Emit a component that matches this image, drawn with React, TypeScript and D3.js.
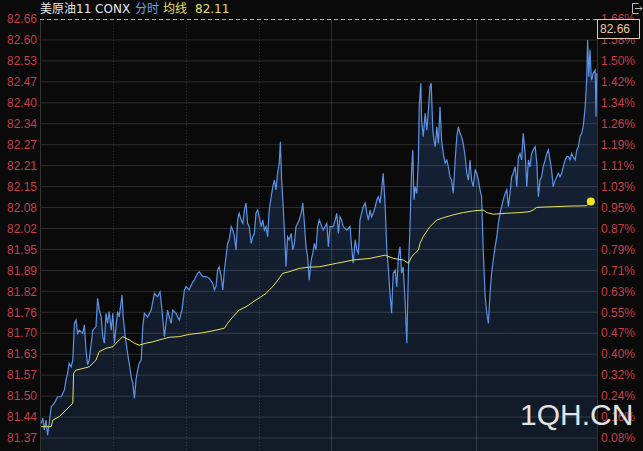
import React from 'react';
import * as d3 from 'd3';

const W = 643;
const H = 451;

const titleText = '美原油11 CONX';
const modeText = '分时';
const avgText = '均线';
const avgValueText = '82.11';
const lastTagText = '82.66';
const watermarkText = '1QH.CN';

const priceTickLabels = ['82.66','82.60','82.53','82.47','82.40','82.34','82.27','82.21','82.15','82.08','82.02','81.95','81.89','81.82','81.76','81.70','81.63','81.57','81.50','81.44','81.37'];
const pctTickLabels = ['1.66%','1.58%','1.50%','1.42%','1.34%','1.26%','1.19%','1.11%','1.03%','0.95%','0.87%','0.79%','0.71%','0.63%','0.55%','0.47%','0.40%','0.32%','0.24%','0.16%','0.08%'];
const priceTop = 82.66;
const priceBottom = 81.37;

const sessionMinutes = 1392.5;
const gridMinutes = [182, 365, 548, 728, 1090];
const gridDotted = [true, true, true, false, false];

const priceTimes = [3,7,11,15,19,23,28,36,44,53,61,65,69,73,78,82,86,90,94,98,107,111,115,119,123,132,140,144,148,153,157,161,165,169,173,178,182,186,190,194,198,205,208,213,219,223,228,232,236,240,244,248,253,257,261,269,278,286,294,300,305,311,315,319,323,328,332,340,348,355,361,365,373,382,386,390,394,398,407,415,423,432,436,440,444,448,453,457,461,465,469,473,478,482,486,490,494,498,503,507,511,515,519,523,528,532,536,540,544,548,553,557,561,565,569,573,578,582,586,590,594,598,601,604,608,611,615,619,623,628,632,636,640,644,648,653,657,661,665,669,673,678,682,686,690,694,698,708,717,721,725,733,738,742,746,750,754,758,767,775,779,783,788,792,796,800,804,808,813,817,821,825,829,833,838,842,846,850,854,858,863,867,871,875,879,883,888,892,896,900,904,908,913,917,921,925,929,932,935,938,942,946,948,952,954,958,963,967,971,975,978,982,985,988,992,996,1000,1004,1008,1013,1017,1021,1025,1029,1033,1038,1042,1046,1050,1054,1058,1063,1067,1071,1075,1079,1083,1088,1092,1096,1100,1104,1108,1113,1117,1121,1125,1129,1133,1138,1142,1146,1150,1154,1158,1163,1167,1171,1175,1179,1183,1188,1192,1196,1200,1204,1208,1213,1217,1221,1225,1229,1233,1238,1242,1246,1250,1254,1258,1263,1267,1271,1275,1279,1283,1288,1292,1296,1300,1304,1308,1313,1317,1321,1325,1329,1333,1338,1342,1346,1350,1354,1358,1363,1367,1369,1372,1375,1378,1379,1383,1388,1390,1392];

const prices = [81.415,81.431,81.395,81.425,81.379,81.415,81.466,81.477,81.497,81.497,81.518,81.549,81.569,81.600,81.589,81.610,81.723,81.733,81.692,81.702,81.692,81.718,81.641,81.595,81.610,81.702,81.713,81.800,81.764,81.743,81.682,81.662,81.754,81.723,81.759,81.702,81.754,81.662,81.713,81.759,81.743,81.810,81.743,81.682,81.631,81.600,81.559,81.538,81.492,81.549,81.579,81.600,81.610,81.713,81.754,81.743,81.764,81.815,81.805,81.820,81.764,81.682,81.723,81.764,81.743,81.723,81.764,81.754,81.733,81.764,81.826,81.836,81.826,81.851,81.856,81.867,81.877,81.882,81.867,81.867,81.862,81.846,81.826,81.836,81.887,81.897,81.867,81.826,81.887,81.928,81.969,81.980,82.021,82.010,81.990,81.949,82.041,82.062,82.041,82.031,82.072,82.093,82.031,82.021,81.969,81.990,82.000,82.062,82.072,82.051,82.021,82.041,82.010,82.021,81.990,82.072,82.113,82.144,82.164,82.134,82.185,82.216,82.282,82.164,82.082,82.010,81.897,81.990,81.980,82.000,81.949,81.969,82.021,82.031,82.041,82.062,82.093,82.031,81.959,81.928,81.856,81.918,81.939,81.969,81.949,82.021,82.041,82.010,82.031,81.959,82.021,82.021,82.041,82.062,82.000,82.051,82.041,82.021,82.010,82.021,81.959,81.908,81.980,81.949,81.939,82.041,82.062,82.082,82.093,82.062,82.041,82.072,82.051,82.062,82.082,82.103,82.113,82.093,82.134,82.185,82.082,81.949,81.887,81.815,81.754,81.877,81.887,81.836,81.928,81.959,81.877,81.897,81.785,81.662,81.887,82.021,82.195,82.257,82.103,82.144,82.123,82.226,82.390,82.462,82.349,82.298,82.370,82.318,82.380,82.452,82.462,82.318,82.287,82.267,82.328,82.277,82.390,82.287,82.246,82.216,82.226,82.205,82.174,82.164,82.123,82.226,82.298,82.328,82.308,82.298,82.277,82.236,82.185,82.164,82.226,82.164,82.144,82.195,82.185,82.164,82.134,82.113,81.949,81.805,81.754,81.723,81.815,81.877,81.918,81.959,81.990,82.031,82.062,82.082,82.103,82.123,82.134,82.082,82.123,82.174,82.185,82.205,82.144,82.236,82.246,82.226,82.308,82.246,82.144,82.226,82.205,82.246,82.257,82.267,82.216,82.113,82.164,82.174,82.205,82.226,82.246,82.257,82.226,82.195,82.144,82.164,82.174,82.185,82.174,82.185,82.205,82.226,82.236,82.236,82.226,82.246,82.236,82.226,82.257,82.267,82.298,82.308,82.328,82.390,82.482,82.595,82.482,82.565,82.482,82.472,82.493,82.503,82.359,82.493];

const avgTimes = [3,28,32,48,65,73,82,84,90,107,123,140,148,165,182,198,207,215,223,236,248,265,282,298,323,348,373,407,440,461,469,482,498,515,540,565,573,582,598,607,623,648,673,698,742,783,825,863,883,908,921,929,938,946,950,958,975,992,1008,1033,1058,1083,1108,1117,1133,1167,1200,1225,1233,1242,1283,1325,1367,1377];
const avgPrices = [81.405,81.405,81.425,81.436,81.456,81.466,81.477,81.569,81.579,81.584,81.589,81.610,81.636,81.646,81.651,81.672,81.682,81.677,81.672,81.662,81.656,81.662,81.666,81.672,81.680,81.682,81.689,81.694,81.702,81.708,81.723,81.743,81.764,81.774,81.795,81.815,81.826,81.836,81.862,81.877,81.882,81.892,81.896,81.897,81.908,81.918,81.923,81.933,81.923,81.918,81.908,81.928,81.939,81.949,81.969,81.990,82.021,82.041,82.048,82.057,82.064,82.069,82.072,82.064,82.059,82.062,82.064,82.067,82.072,82.080,82.082,82.084,82.085,82.098];

const LEFT = 40;
const RIGHT = 597;
const TOP = 19;
const BOTTOM = 438;

const labelRed = '#c63f4a';
const sans = '"Liberation Sans", Arial, sans-serif';

export default function App() {
  const x = d3.scaleLinear().domain([0, sessionMinutes]).range([LEFT, RIGHT]);
  const y = d3.scaleLinear().domain([priceBottom, priceTop]).range([BOTTOM, TOP]);
  const tickY = d3.scaleLinear().domain([0, priceTickLabels.length - 1]).range([TOP, BOTTOM]);

  const pts = priceTimes.map((t, i) => [t, prices[i]] as [number, number]);
  const avgPts = avgTimes.map((t, i) => [t, avgPrices[i]] as [number, number]);

  const line = d3.line<[number, number]>().x(d => x(d[0])).y(d => y(d[1]));
  const area = d3.area<[number, number]>().x(d => x(d[0])).y0(H).y1(d => y(d[1]));

  const lastAvg = avgPts[avgPts.length - 1];

  return (
    <svg width={W} height={H} style={{ position: 'fixed', left: 0, top: 0, background: '#0a0a0a' }}>
      <defs>
        <linearGradient id="fillG" x1="0" y1="0" x2="0" y2="1">
          <stop offset="0%" stopColor="#16233a" />
          <stop offset="100%" stopColor="#111a26" />
        </linearGradient>
      </defs>
      <rect x={0} y={0} width={W} height={H} fill="#0a0a0a" />
      <path d={area(pts) || ''} fill="url(#fillG)" />
      {priceTickLabels.map((_, i) => i === 0 ? null : (
        <line key={'h' + i} x1={LEFT} x2={RIGHT} y1={tickY(i)} y2={tickY(i)} stroke="rgba(255,255,255,0.14)" strokeWidth={1} />
      ))}
      {gridMinutes.map((t, i) => (
        <line key={'v' + i} x1={Math.round(x(t)) + 0.5} x2={Math.round(x(t)) + 0.5} y1={TOP} y2={H}
          stroke="rgba(255,255,255,0.14)" strokeWidth={1} strokeDasharray={gridDotted[i] ? '1,2' : undefined} />
      ))}
      <line x1={LEFT + 0.5} x2={LEFT + 0.5} y1={TOP} y2={H} stroke="#333" />
      <line x1={RIGHT + 0.5} x2={RIGHT + 0.5} y1={TOP} y2={H} stroke="#333" />
      <line x1={LEFT} x2={RIGHT} y1={TOP + 0.5} y2={TOP + 0.5} stroke="#d9a27c" strokeDasharray="4,3" />
      <path d={line(pts) || ''} fill="none" stroke="#5b93e6" strokeWidth={1.2} />
      <path d={line(avgPts) || ''} fill="none" stroke="#e6e35a" strokeWidth={1} />
      <circle cx={x(lastAvg[0])} cy={y(lastAvg[1])} r={4} fill="#f2e51e" />

      {priceTickLabels.map((s, i) => (
        <text key={'l' + i} x={37} y={tickY(i)} dy="0.35em" textAnchor="end" fill={labelRed} fontSize={12} fontFamily={sans}>{s}</text>
      ))}
      {pctTickLabels.map((s, i) => (
        <text key={'r' + i} x={601} y={tickY(i)} dy="0.35em" textAnchor="start" fill={labelRed} fontSize={12} fontFamily={sans}>{s}</text>
      ))}

      <rect x={597.5} y={19.5} width={42} height={19} fill="#0a0a0a" stroke="#e6c4b0" strokeWidth={1} />
      <text x={600} y={29} dy="0.35em" fill="#f0c8a0" fontSize={12} fontFamily={sans}>{lastTagText}</text>

      <text y={13} fontSize={12} fontFamily='"DejaVu Sans", "Noto Sans CJK SC", sans-serif'>
        <tspan x={40} fill="#e8e8e8">{titleText}</tspan>
        <tspan x={135} fill="#6f9fe6" fontFamily='"Noto Sans CJK SC", sans-serif'>{modeText}</tspan>
        <tspan x={163} fill="#e3e06a" fontFamily='"Noto Sans CJK SC", sans-serif'>{avgText}</tspan>
        <tspan x={195} fill="#e3e06a">{avgValueText}</tspan>
      </text>

      <g stroke="#bdbdbd" fill="none" strokeWidth={1}>
        <path d="M638.5,3.5 H632.5 V13.5 H638.5" />
        <path d="M635,8.5 H642 M640,6.5 L642,8.5 L640,10.5" />
      </g>

      <text x={520} y={425} fill="#e2e2e2" fontSize={30} fontFamily={sans}>{watermarkText}</text>
    </svg>
  );
}
